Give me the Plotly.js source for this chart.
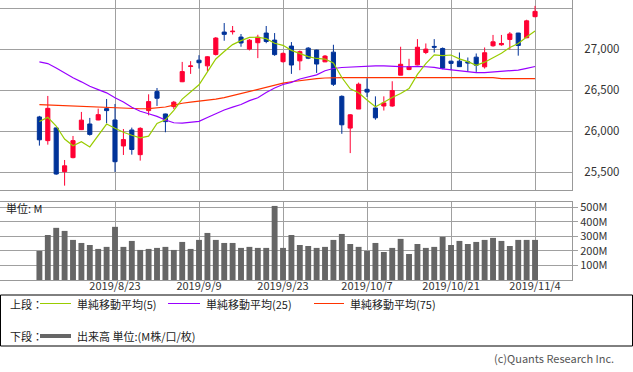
<!DOCTYPE html>
<html><head><meta charset="utf-8">
<script src="https://cdn.plot.ly/plotly-3.0.1.min.js"></script>
<style>html,body{margin:0;padding:0;background:#fff;}#chart{width:633px;height:372px;}</style>
</head><body><div id="chart"></div>
<script>
const dates = ["2019/8/12","2019/8/13","2019/8/14","2019/8/15","2019/8/16","2019/8/19","2019/8/20","2019/8/21","2019/8/22","2019/8/23",
"2019/8/26","2019/8/27","2019/8/28","2019/8/29","2019/8/30","2019/9/3","2019/9/4","2019/9/5","2019/9/6","2019/9/9",
"2019/9/10","2019/9/11","2019/9/12","2019/9/13","2019/9/16","2019/9/17","2019/9/18","2019/9/19","2019/9/20","2019/9/23",
"2019/9/24","2019/9/25","2019/9/26","2019/9/27","2019/9/30","2019/10/1","2019/10/2","2019/10/3","2019/10/4","2019/10/7",
"2019/10/8","2019/10/9","2019/10/10","2019/10/11","2019/10/14","2019/10/15","2019/10/16","2019/10/17","2019/10/18","2019/10/21",
"2019/10/22","2019/10/23","2019/10/24","2019/10/25","2019/10/28","2019/10/29","2019/10/30","2019/10/31","2019/11/1","2019/11/4"];
const openP = [26175,25886,26041,25508,25679,26020,26089,26138,26276,26138,
25821,26016,25715,26252,26484,26211,26301,26604,26790,26867,
26798,26937,27210,27214,27149,27002,27080,27198,27112,26849,
27039,26859,27014,26990,26847,26965,26426,26039,26271,26512,
26284,26308,26308,26684,26753,26810,26961,27035,27010,26855,
26855,26847,26904,26786,27043,27055,27120,27198,27141,27398];
const highP = [26188,26431,26045,25650,25943,26236,26163,26276,26394,26333,
26028,26045,26049,26451,26528,26215,26370,26846,26855,26928,
26916,27149,27320,27284,27186,27124,27177,27284,27198,26960,
27088,26985,27026,26995,26930,27055,26438,26210,26594,26647,
26426,26426,26610,27031,26884,27124,27071,27124,27022,26860,
26961,26900,26949,27022,27175,27175,27210,27200,27360,27529];
const lowP = [25825,25837,25470,25337,25670,26015,25947,26135,26098,25504,
25711,25715,25642,26195,26309,25988,26272,26600,26700,26765,
26733,26924,27104,27180,27031,26986,26892,27074,26920,26837,
26700,26745,26880,26712,26843,26553,25969,25734,26271,26418,
26141,26253,26300,26684,26745,26805,26941,26961,26757,26745,
26786,26735,26724,26765,27031,27043,26998,26922,27135,27390];
const closeP = [25896,26280,25479,25579,25886,26136,25962,26203,26252,25629,
25899,25778,26036,26362,26403,26118,26355,26728,26797,26836,
26909,27137,27182,27220,27077,27111,27147,27095,26935,26950,
26808,26971,26891,26820,26917,26573,26079,26201,26574,26478,
26164,26346,26497,26817,26787,27025,27002,27026,26770,26828,
26788,26834,26806,26958,27091,27071,27187,27046,27347,27462];
const ma5 = [26120,26170,26064,25905,25824,25872,25809,25953,26088,26036,
25989,25952,25919,25941,26096,26140,26255,26393,26481,26567,
26725,26882,26972,27057,27105,27145,27147,27130,27073,27048,
26987,26952,26911,26888,26881,26834,26656,26518,26469,26381,
26299,26353,26412,26460,26522,26694,26826,26931,26922,26930,
26883,26849,26805,26843,26895,26952,27023,27071,27149,27223];
const ma25 = [26846,26826,26771,26710,26652,26603,26549,26508,26469,26408,
26357,26294,26245,26214,26182,26138,26104,26099,26107,26121,
26169,26213,26260,26294,26326,26374,26409,26474,26528,26570,
26597,26638,26665,26688,26739,26766,26778,26785,26793,26796,
26798,26798,26789,26789,26787,26792,26787,26780,26762,26752,
26740,26727,26715,26716,26722,26733,26741,26747,26768,26790];
const ma75 = [26324,26320,26314,26306,26300,26295,26291,26288,26285,26282,
26279,26276,26275,26276,26284,26296,26318,26342,26356,26366,
26378,26392,26410,26436,26462,26488,26510,26532,26560,26588,
26604,26618,26630,26642,26650,26655,26655,26655,26655,26655,
26655,26655,26655,26655,26655,26655,26655,26655,26655,26655,
26655,26655,26655,26655,26655,26643,26643,26643,26643,26643];
const volume = [200,310,359,338,276,255,241,214,228,366,
228,269,207,214,221,228,207,262,214,276,
324,276,255,255,221,228,221,221,510,221,
310,241,234,221,228,276,317,248,228,200,
255,193,221,283,179,248,221,228,297,241,
269,248,262,276,290,269,234,276,276,276];
const xTicks = ["2019/8/23","2019/9/9","2019/9/23","2019/10/7","2019/10/21","2019/11/4"];
const priceTicks = [25500,26000,26500,27000,27500];
const volTicks = [100,200,300,400,500];
const volTickText = ["100M","200M","300M","400M","500M"];

const FONT = "'Noto Sans CJK JP', 'Noto Sans', sans-serif";
const W = 572, H = 280;
const px = x => x / W;
const py = y => (H - y) / H;

const traces = [
  {type:'candlestick', x:dates, open:openP, high:highP, low:lowP, close:closeP,
   xaxis:'x', yaxis:'y', showlegend:false, hoverinfo:'skip', whiskerwidth:0,
   increasing:{line:{color:'#ff0033', width:1}, fillcolor:'#ff0033'},
   decreasing:{line:{color:'#003399', width:1}, fillcolor:'#003399'}},
  {type:'scatter', mode:'lines', x:dates, y:ma75, xaxis:'x', yaxis:'y', line:{color:'#ff3300', width:1.2}, showlegend:false, hoverinfo:'skip'},
  {type:'scatter', mode:'lines', x:dates, y:ma25, xaxis:'x', yaxis:'y', line:{color:'#9900ff', width:1.2}, showlegend:false, hoverinfo:'skip'},
  {type:'scatter', mode:'lines', x:dates, y:ma5, xaxis:'x', yaxis:'y', line:{color:'#99cc00', width:1.2}, showlegend:false, hoverinfo:'skip'},
  {type:'bar', x:dates, y:volume, xaxis:'x2', yaxis:'y2', marker:{color:'#666666', line:{width:0}}, width:0.7, showlegend:false, hoverinfo:'skip'}
];

const axisCommon = {showline:true, mirror:true, linecolor:'#999999', linewidth:1, gridcolor:'#a0a0a0', gridwidth:1, zeroline:false, fixedrange:true};

const layout = {
  width:633, height:372,
  margin:{l:0, r:61, t:0, b:92},
  paper_bgcolor:'#ffffff', plot_bgcolor:'#ffffff',
  font:{family:FONT, size:11, color:'#333333'},
  showlegend:false,
  xaxis: Object.assign({}, axisCommon, {type:'category', domain:[0,1], anchor:'y', range:[-4.69, 63.4],
    tickvals:xTicks, showticklabels:false, ticks:'', rangeslider:{visible:false}}),
  yaxis: Object.assign({}, axisCommon, {domain:[py(190), 1], anchor:'x', side:'right', range:[25284, 27601],
    tickvals:priceTicks, tickformat:',d', ticks:'outside', ticklen:9, tickcolor:'rgba(0,0,0,0)',
    tickfont:{size:11.5, color:'#333333'}}),
  xaxis2: Object.assign({}, axisCommon, {type:'category', domain:[0,1], anchor:'y2', matches:'x', range:[-4.69, 63.4],
    tickvals:xTicks, ticktext:xTicks, ticks:'', ticklabelstandoff:-4, tickfont:{size:11, color:'#333333'}}),
  yaxis2: Object.assign({}, axisCommon, {domain:[0, py(202)], anchor:'x2', side:'right', range:[0, 537],
    tickvals:volTicks, ticktext:volTickText, ticks:'outside', ticklen:5, tickcolor:'#a0a0a0',
    tickfont:{size:11, color:'#333333'}}),
  shapes:[
    {type:'rect', xref:'paper', yref:'paper', x0:px(0.5), x1:px(632.5), y0:py(295), y1:py(346), line:{color:'#000000', width:1}},
    {type:'line', xref:'paper', yref:'paper', x0:px(40), x1:px(71), y0:py(303.5), y1:py(303.5), line:{color:'#99cc00', width:1}},
    {type:'line', xref:'paper', yref:'paper', x0:px(168), x1:px(200), y0:py(303.5), y1:py(303.5), line:{color:'#9900ff', width:1}},
    {type:'line', xref:'paper', yref:'paper', x0:px(314), x1:px(344), y0:py(303.5), y1:py(303.5), line:{color:'#ff3300', width:1}},
    {type:'line', xref:'paper', yref:'paper', x0:px(40), x1:px(71), y0:py(336), y1:py(336), line:{color:'#666666', width:4}}
  ],
  annotations:[
    {text:'単位: M', xref:'paper', yref:'paper', x:px(4), y:py(208), xanchor:'left', yanchor:'middle', showarrow:false, font:{size:11, color:'#222222'}},
    {text:'上段：', xref:'paper', yref:'paper', x:px(8), y:py(304), xanchor:'left', yanchor:'middle', showarrow:false, font:{size:11, color:'#222222'}},
    {text:'単純移動平均(5)', xref:'paper', yref:'paper', x:px(75), y:py(304), xanchor:'left', yanchor:'middle', showarrow:false, font:{size:11, color:'#222222'}},
    {text:'単純移動平均(25)', xref:'paper', yref:'paper', x:px(204), y:py(304), xanchor:'left', yanchor:'middle', showarrow:false, font:{size:11, color:'#222222'}},
    {text:'単純移動平均(75)', xref:'paper', yref:'paper', x:px(348), y:py(304), xanchor:'left', yanchor:'middle', showarrow:false, font:{size:11, color:'#222222'}},
    {text:'下段：', xref:'paper', yref:'paper', x:px(8), y:py(336), xanchor:'left', yanchor:'middle', showarrow:false, font:{size:11, color:'#222222'}},
    {text:'出来高 単位:(M株/口/枚)', xref:'paper', yref:'paper', x:px(75), y:py(336), xanchor:'left', yanchor:'middle', showarrow:false, font:{size:11, color:'#222222'}},
    {text:'(c)Quants Research Inc.', xref:'paper', yref:'paper', x:px(616), y:py(358), xanchor:'right', yanchor:'middle', showarrow:false, font:{size:11, color:'#555555'}}
  ]
};

Plotly.newPlot('chart', traces, layout, {staticPlot:true, displayModeBar:false});
</script>
</body></html>
